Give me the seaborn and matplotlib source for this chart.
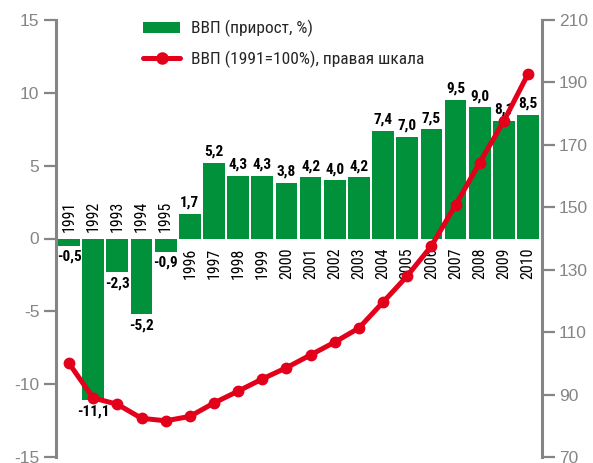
import numpy as np
import pandas as pd
import seaborn as sns
import matplotlib
matplotlib.use("Agg")
import matplotlib.pyplot as plt
from matplotlib import font_manager
from matplotlib.patches import Patch
from matplotlib.lines import Line2D

years = ["1991", "1992", "1993", "1994", "1995", "1996", "1997", "1998", "1999", "2000",
         "2001", "2002", "2003", "2004", "2005", "2006", "2007", "2008", "2009", "2010"]
growth = [-0.5, -11.1, -2.3, -5.2, -0.9, 1.7, 5.2, 4.3, 4.3, 3.8,
          4.2, 4.0, 4.2, 7.4, 7.0, 7.5, 9.5, 9.0, 8.1, 8.5]
gdp_index = [100.0, 88.9, 86.9, 82.4, 81.6, 83.0, 87.3, 91.1, 95.0, 98.6,
             102.7, 106.8, 111.3, 119.6, 128.0, 137.6, 150.7, 164.3, 177.6, 192.7]
left_ticks = [-15, -10, -5, 0, 5, 10, 15]
right_ticks = [70, 90, 110, 130, 150, 170, 190, 210]
legend_labels = ["ВВП (прирост, %)", "ВВП (1991=100%), правая шкала"]

sns.set_style("white")
fonts = font_manager.fontManager.ttflist
def has(name, bold=False):
    for f in fonts:
        if f.name == name:
            w = f.weight if isinstance(f.weight, int) else 400
            if not bold or w >= 600:
                return True
    return False

cands = ["Liberation Sans Narrow", "Arial Narrow", "Roboto Condensed", "PT Sans Narrow",
         "Open Sans Condensed", "Archivo Narrow", "Asap Condensed", "Barlow Semi Condensed"]
narrow = next((c for c in cands if has(c)), "DejaVu Sans")
narrow_bold = next((c for c in cands if has(c, bold=True)), narrow)
plt.rcParams["font.family"] = ["Liberation Sans", "DejaVu Sans"]

GREEN = "#00913a"
RED = "#e2001a"
GRAY = "#858585"

df = pd.DataFrame({"year": years, "growth": growth, "index": gdp_index})
df["pos"] = np.arange(len(df))

fig = plt.figure(figsize=(5.93, 4.63), dpi=100)
ax = fig.add_axes([56 / 593, 6 / 463, 486 / 593, 437 / 463])

sns.barplot(data=df, x="year", y="growth", order=years, color=GREEN, saturation=1,
            width=0.9, ax=ax, edgecolor="none")
ax.set_xlim(-0.54, 19.58)
ax.set_ylim(-15, 15)
ax.set_yticks(left_ticks)
ax.set_yticklabels([str(t) for t in left_ticks])
ax.set_xticks([])
ax.set_xlabel("")
ax.set_ylabel("")

labels = [f"{v:.1f}".replace(".", ",") for v in growth]
ax.bar_label(ax.containers[0], labels=labels, padding=3, fontsize=11,
             fontweight="bold", family=narrow_bold, color="black")

for i, (yr, v) in enumerate(zip(years, growth)):
    if v < 0:
        ax.annotate(yr, (i, 0), xytext=(0, 4.5), textcoords="offset points",
                    rotation=90, ha="center", va="bottom", fontsize=11.5,
                    family=narrow, color="black")
    else:
        ax.annotate(yr, (i, 0), xytext=(0, -6.5), textcoords="offset points",
                    rotation=90, ha="center", va="top", fontsize=11.5,
                    family=narrow, color="black")

ax2 = ax.twinx()
sns.lineplot(data=df, x="pos", y="index", color=RED, lw=3.6, marker="o",
             markersize=8.5, markeredgewidth=0, ax=ax2, zorder=5)
ax2.set_ylim(70, 210)
ax2.set_yticks(right_ticks)
ax2.set_yticklabels([str(t) for t in right_ticks])
ax2.set_xlim(-0.54, 19.58)
ax2.set_xlabel("")
ax2.set_ylabel("")

for a in (ax, ax2):
    for s in ("top", "bottom"):
        a.spines[s].set_visible(False)
    a.tick_params(axis="y", length=9, width=1.6, color=GRAY, labelcolor=GRAY,
                  labelsize=12.5, pad=3, direction="out")
ax.spines["left"].set_color(GRAY)
ax.spines["left"].set_linewidth(2.2)
ax.spines["right"].set_visible(False)
ax2.spines["left"].set_visible(False)
ax2.spines["right"].set_color(GRAY)
ax2.spines["right"].set_linewidth(2.2)
ax.tick_params(axis="y", left=True, right=False)
ax2.tick_params(axis="y", right=True, left=False)

handles = [Patch(facecolor=GREEN, edgecolor="none"),
           Line2D([0], [0], color=RED, lw=3.6, marker="o", markersize=9, markeredgewidth=0)]
leg = ax2.legend(handles, legend_labels, loc="upper left",
                 bbox_to_anchor=(0.179, 1.0), frameon=False, borderpad=0, borderaxespad=0,
                 handlelength=2.15, handleheight=0.65, handletextpad=0.6,
                 labelspacing=0.75, prop={"family": narrow, "size": 12.5})

fig.savefig("out.png", dpi=100)
